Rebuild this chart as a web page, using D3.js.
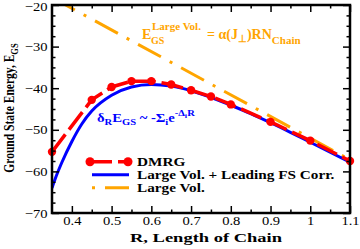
<!DOCTYPE html>
<html>
<head>
<meta charset="utf-8">
<script src="https://cdn.jsdelivr.net/npm/d3@7"></script>
<style>
  body { margin: 0; background: #fff; }
  svg text { font-family: "Liberation Serif", "Times New Roman", serif; }
</style>
</head>
<body>
<svg id="chart" width="360" height="249"></svg>
<script>
// DMRG points
const dmrgR = [0.35, 0.45, 0.5, 0.55, 0.6, 0.65, 0.7, 0.75, 0.8, 0.9, 1.0, 1.1];
const dmrgE = [-55.3, -42.8, -39.7, -38.3, -38.3, -39.1, -40.5, -42.0, -43.9, -48.1, -52.6, -57.5];

// large vol + leading finite size correction
const fsR = [0.35, 0.36, 0.375, 0.4, 0.425, 0.45, 0.5, 0.55, 0.6, 0.65, 0.7, 0.75, 0.8, 0.85, 0.9, 0.95, 1.0, 1.05, 1.1];
const fsE = [-64, -61.3, -57.8, -52.8, -48.6, -45.5, -41.7, -39.7, -39.1, -39.5, -40.6, -42.2, -44.1, -46.1, -48.3, -50.6, -53.0, -55.4, -57.8];

// large volume straight line
const bulkR = [0.35, 1.1];
const bulkE = [-18.2, -57.2];

const xTicks = [0.4, 0.5, 0.6, 0.7, 0.8, 0.9, 1, 1.1];
const yTicks = [-20, -30, -40, -50, -60, -70];

const RED = "#ff0000";
const BLUE = "#0000ff";
const ORANGE = "#ffa500";

const margin = { left: 52, right: 10, top: 5, bottom: 36 };
const width = 360, height = 249;

const $svg = d3.select("svg#chart");

const x = d3.scaleLinear().domain([0.35, 1.1]).range([margin.left, width - margin.right]);
const y = d3.scaleLinear().domain([-70, -20]).range([height - margin.bottom, margin.top]);

$svg.append("defs").append("clipPath").attr("id", "plot-clip")
  .append("rect")
  .attr("x", x(0.35)).attr("y", y(-20))
  .attr("width", x(1.1) - x(0.35)).attr("height", y(-70) - y(-20));

const $plot = $svg.append("g").attr("clip-path", "url(#plot-clip)");

const line = d3.line().x((d) => x(d[0])).y((d) => y(d[1]));

// orange large vol line
$plot.append("path")
  .datum(bulkR.map((r, i) => [r, bulkE[i]]))
  .attr("d", line)
  .attr("fill", "none")
  .attr("stroke", ORANGE)
  .attr("stroke-width", 3)
  .attr("stroke-dasharray", "26,10,3,10");

// blue curve
$plot.append("path")
  .datum(fsR.map((r, i) => [r, fsE[i]]))
  .attr("d", line.curve(d3.curveMonotoneX))
  .attr("fill", "none")
  .attr("stroke", BLUE)
  .attr("stroke-width", 3);

// red dmrg
const dmrg = dmrgR.map((r, i) => [r, dmrgE[i]]);
$plot.append("path")
  .datum(dmrg)
  .attr("d", d3.line().x((d) => x(d[0])).y((d) => y(d[1])))
  .attr("fill", "none")
  .attr("stroke", RED)
  .attr("stroke-width", 3.5)
  .attr("stroke-dasharray", "22,6");

$svg.append("g").selectAll("circle")
  .data(dmrg)
  .join("circle")
  .attr("cx", (d) => x(d[0]))
  .attr("cy", (d) => y(d[1]))
  .attr("r", 4.2)
  .attr("fill", RED);

// axes: ticks inward on all four sides
const x0 = x(0.35), x1 = x(1.1), y0 = y(-70), y1 = y(-20);
const xMinor = d3.range(0.4, 1.1, 0.05).filter((v) => !xTicks.some((t) => Math.abs(t - v) < 1e-6));
const yMinor = d3.range(-67.5, -20, 2.5).filter((v) => !yTicks.some((t) => Math.abs(t - v) < 1e-6));

const bottomAxis = (len) => d3.axisBottom(x).tickSizeInner(-len).tickSizeOuter(0);
const leftAxis = (len) => d3.axisLeft(y).tickSizeInner(-len).tickSizeOuter(0);

function drawAxis($g, axis) {
  $g.call(axis);
  $g.select(".domain").remove();
  $g.selectAll("line").attr("stroke", "#000").attr("stroke-width", 1.5);
}

const $xAxis = $svg.append("g").attr("transform", `translate(0,${y0})`);
drawAxis($xAxis, bottomAxis(7).tickValues(xTicks).tickFormat(d3.format("~g")).tickPadding(3));
$xAxis.selectAll("text").attr("font-size", 13).attr("fill", "#000")
  .attr("font-family", "Liberation Serif")
  .attr("transform", "scale(1.12,1)");

const $xMinor = $svg.append("g").attr("transform", `translate(0,${y0})`);
drawAxis($xMinor, bottomAxis(3.5).tickValues(xMinor).tickFormat(""));

const $xTop = $svg.append("g").attr("transform", `translate(0,${y1})`);
drawAxis($xTop, d3.axisTop(x).tickSizeInner(-7).tickSizeOuter(0).tickValues(xTicks).tickFormat(""));
const $xTopMinor = $svg.append("g").attr("transform", `translate(0,${y1})`);
drawAxis($xTopMinor, d3.axisTop(x).tickSizeInner(-3.5).tickSizeOuter(0).tickValues(xMinor).tickFormat(""));

const $yAxis = $svg.append("g").attr("transform", `translate(${x0},0)`);
drawAxis($yAxis, leftAxis(7).tickValues(yTicks).tickFormat(d3.format("d")).tickPadding(4));
$yAxis.selectAll("text").attr("font-size", 13).attr("fill", "#000")
  .attr("font-family", "Liberation Serif")
  .attr("transform", "scale(1.12,1)");
// -20 sits right at the top edge, nudge it down a touch
$yAxis.selectAll(".tick").filter((d) => d === -20).select("text").attr("dy", "0.45em");

const $yMinor = $svg.append("g").attr("transform", `translate(${x0},0)`);
drawAxis($yMinor, leftAxis(3.5).tickValues(yMinor).tickFormat(""));

const $yRight = $svg.append("g").attr("transform", `translate(${x1},0)`);
drawAxis($yRight, d3.axisRight(y).tickSizeInner(-7).tickSizeOuter(0).tickValues(yTicks).tickFormat(""));
const $yRightMinor = $svg.append("g").attr("transform", `translate(${x1},0)`);
drawAxis($yRightMinor, d3.axisRight(y).tickSizeInner(-3.5).tickSizeOuter(0).tickValues(yMinor).tickFormat(""));

// frame
$svg.append("rect")
  .attr("x", x0).attr("y", y1)
  .attr("width", x1 - x0).attr("height", y0 - y1)
  .attr("fill", "none")
  .attr("stroke", "#000")
  .attr("stroke-width", 2.5);

// axis titles (the original figure is stretched sideways a bit)
$svg.append("text")
  .attr("x", 130)
  .attr("y", 241.5)
  .attr("font-size", 13.5)
  .attr("font-weight", "bold")
  .attr("textLength", 152)
  .attr("lengthAdjust", "spacingAndGlyphs")
  .text("R, Length of Chain");

const $yTitle = $svg.append("text")
  .attr("transform", "translate(14,108) rotate(-90) scale(1,1.3)")
  .attr("text-anchor", "middle")
  .attr("font-size", 11.5)
  .attr("font-weight", "bold");
$yTitle.append("tspan").text("Ground State Energy, E");
$yTitle.append("tspan").attr("font-size", 8.5).attr("dy", 3).text("GS");

// annotation: large volume formula
const $ann1 = $svg.append("g").attr("fill", ORANGE).attr("font-weight", "bold");
$ann1.append("text").attr("x", 142).attr("y", 38.5).attr("font-size", 14).text("E");
$ann1.append("text").attr("x", 151).attr("y", 43.5).attr("font-size", 10).text("GS");
$ann1.append("text").attr("x", 152).attr("y", 30).attr("font-size", 11).text("Large Vol.");
const $eq = $ann1.append("text").attr("x", 207).attr("y", 39).attr("font-size", 14);
$eq.append("tspan").text("= \u03b1(J");
$eq.append("tspan").attr("font-size", 10).attr("dy", 3).text("\u22a5");
$eq.append("tspan").attr("dy", -3).text(")RN");
$eq.append("tspan").attr("font-size", 11).attr("dy", 4.5).text("Chain");

// annotation: finite size correction
const $ann2 = $svg.append("text")
  .attr("transform", "translate(97,122) scale(1.17,1)")
  .attr("fill", BLUE).attr("font-weight", "bold").attr("font-size", 12.5);
$ann2.append("tspan").text("\u03b4");
$ann2.append("tspan").attr("font-size", 9).attr("dy", 3).text("R");
$ann2.append("tspan").attr("dy", -3).text("E");
$ann2.append("tspan").attr("font-size", 9).attr("dy", 3).text("GS");
$ann2.append("tspan").attr("dy", -3).text(" ~ -\u03a3");
$ann2.append("tspan").attr("font-size", 9).attr("dy", 3).text("i");
$ann2.append("tspan").attr("dy", -3).text("e");
$ann2.append("tspan").attr("font-size", 9).attr("dy", -6).text("-\u0394");
$ann2.append("tspan").attr("font-size", 7).attr("dy", 2).text("i");
$ann2.append("tspan").attr("font-size", 9).attr("dy", -2).text("R");

// legend
const legend = [
  { label: "DMRG", color: RED, width: 3.5, dash: "22,6", offset: 0, markers: true },
  { label: "Large Vol. + Leading FS Corr.", color: BLUE, width: 3, dash: null, offset: 0, markers: false },
  { label: "Large Vol.", color: ORANGE, width: 3, dash: "26,10,3,10", offset: 36, markers: false }
];
const $legend = $svg.append("g");
legend.forEach((item, i) => {
  const ly = 161.7 + i * 13;
  $legend.append("line")
    .attr("x1", item.markers ? 90 : 92).attr("x2", 129)
    .attr("y1", ly).attr("y2", ly)
    .attr("stroke", item.color)
    .attr("stroke-width", item.width)
    .attr("stroke-dasharray", item.dash)
    .attr("stroke-dashoffset", item.offset);
  if (item.markers) {
    [90, 128].forEach((cx) =>
      $legend.append("circle").attr("cx", cx).attr("cy", ly).attr("r", 4.5).attr("fill", item.color)
    );
  }
  $legend.append("text")
    .attr("transform", `translate(137,${ly + 4}) scale(1.22,1)`)
    .attr("font-size", 12.5).attr("font-weight", "bold")
    .text(item.label);
});
</script>
</body>
</html>
